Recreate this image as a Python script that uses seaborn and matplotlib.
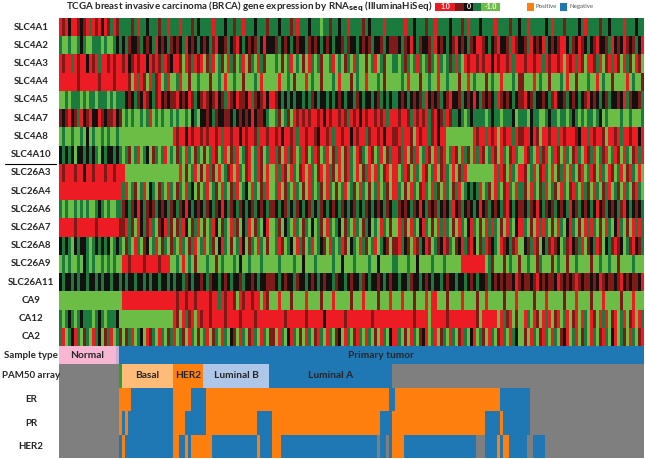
import numpy as np
import matplotlib
matplotlib.use("Agg")
import matplotlib.pyplot as plt
import seaborn as sns
from matplotlib.colors import LinearSegmentedColormap, ListedColormap, Normalize
from matplotlib.patches import Rectangle
import matplotlib.transforms as mtransforms

genes = ["SLC4A1", "SLC4A2", "SLC4A3", "SLC4A4", "SLC4A5", "SLC4A7", "SLC4A8", "SLC4A10",
         "SLC26A3", "SLC26A4", "SLC26A6", "SLC26A7", "SLC26A8", "SLC26A9", "SLC26A11",
         "CA9", "CA12", "CA2"]

# expression, one string per gene for each block of samples
# G=-1.0  g=-0.5  k=0  r=0.5  R=1.0
expr_normal = [
    "RrRkRRrkrRgRrRkRrgRrg",
    "gGGgGGgkgGGgggGgGGgkg",
    "RrRRgRrRRkRrRgRRrRrRR",
    "RRRRRRrRRRRRRrRRRRrRR",
    "GGgGgggGgGggGgggGgGgg",
    "rkrRkrgRkrRkkRrkrrRkr",
    "GgGGgGGgGkGgGGgGgGGgG",
    "kgkgkGkkgkgkgGkgkkgkg",
    "RrRRRrRRkRRrRRRrRRrRR",
    "RRRRRRRRRRRRRRRRRRRRR",
    "gGgGGgGgGgGGgkgGgGGgg",
    "RRRRRrRRRRRRrRRRRRRRr",
    "kgkgGkgkkgGgkgkgkGgkg",
    "GgGgGGgGkgGgGGgGgGgGG",
    "kgkkgkgkkgkkgkgkkgkkg",
    "GGGGGGGGGGGGGGGGGGGGG",
    "gGgkgGgkgggGgkgGgggkG",
    "gRGgkRgGrgGRgkGrgRGgr",
]
expr_basal = [
    "gggrgRggkgggrggRg",
    "kgrkkrgkrkgRkrkgr",
    "rRkrRrRRkRrRrgRrk",
    "RRrGRgRrGRgrRGgRG",
    "gkrkgrkRrkgrRkrkr",
    "GgGgGGgGgRGgGgGGg",
    "GGGGGGGGGGGGGGGGG",
    "GgrGgRGgkGrgGgRGg",
    "RGGGGGGGGGGGGGGGG",
    "gRGgrGgRGkgGrgGRg",
    "rkgrkRkgrkrgkrkgr",
    "rRgrGRkgrRgGrkRgr",
    "GrgGRgGrkGgRGrgGr",
    "RRrRRRRrRRRRrRRRG",
    "kgkkgkkgkgkkgkkgk",
    "RRRRRRRRRRRRRRRRR",
    "GGGGGGGGGGGGGGGGG",
    "GrgRGgkGRrgGRgGrg",
]
expr_her2 = [
    "ggRgggrgkg",
    "krkgRkrkgk",
    "RRrGRrgRrR",
    "GgRGGrGGgG",
    "rRkrkRrgkr",
    "GgGGgGkgGk",
    "RrRRkRrRRr",
    "GrgGRgGrgG",
    "GGRGrGgRGr",
    "GrgGRgkGrG",
    "kgrkRkgkrk",
    "GrgRkGrgRG",
    "gGRgGrgRGg",
    "GgGRGgGrGG",
    "gkkgrkgkkr",
    "RrRRrRRrRR",
    "RrGRgrRGRr",
    "RGgrGRgGrG",
]
expr_lumb = [
    "gggRgggkggrggRgggkgggr",
    "rkgrRkkrgkrRkgkrkrgkRk",
    "GrgRGgrGRgrGgRGrgGRgrG",
    "GGrGGgGRGGgGGrGGGgGRGG",
    "RrkrRkrgRrkRrrkRgrkrRk",
    "krkgrkkrrkgkrkrkRkrrkg",
    "RrRRrRgRRrRRkRrRRrgRRr",
    "rGgRrGgRGrgRGgrRGgRrGg",
    "GRgrGRGgrRGRgGrRGgRrGR",
    "gRGgrGRgGrgRGgkGRgGrgR",
    "grkgrkRkgrkgrkgkrgkrkg",
    "rGgRkGrgGRgrGkgRGrgGkR",
    "RGgrGkRgGrGgRkGrgGRgGr",
    "GgGGrGgGGGgGkGGgGGGgGG",
    "kgrkkgkrkgkkrgkkrkgkkr",
    "RRrRRgRrRRrGRrRRrRRGRr",
    "RRrRRRRrRRRRrRRRRrRRRR",
    "gRGrgGRgGkrGRgGrRgGRgG",
]
expr_luma = [
    "ggkgggrgRgggkgggGggrggkggRggggrgkggggRgg",
    "krgkrkgkrkkgrkrkgkrkgkkrgrkkgkrkrgkkrgkr",
    "GgGrGgRGgGrGRgGgrGGgRGgGrgGRgGGrGgRGgrGG",
    "GGRGGgGrGGGRGgGGrGGGgGRGGGrGgGGRGGGgGrGG",
    "Rrkgkgkgkkgkgrkgkkgkgkrkgkkgrkgkkgkrgkgk",
    "GgrGgrGRrRrRrRRrRkRrRRrRrgRrRkRrRRrRrRgR",
    "RrRkRRrRgRRrRRrkRRrRgRRrRRkRrRRgrRRrRkRR",
    "RgrGRgrRGgRrGgRrGgRGrgRGrRgGRrgGRrGgRGrg",
    "GRgRrGRgGrRGRgGrRGRgrGRGrRgGRGrgRGRgGrRG",
    "GgRGrgGRgGrGRgGgrGRgGrGgRGgrGRgGrGgRGgrG",
    "rkgkrgkgrkgkrgkgrkgkrkgrkgkrgkgrkgkrkgrk",
    "GgrGkgGRgGrgGkGgrGRgGgkGrgGRgGrgkGgGRgGr",
    "GgRrGgkGRgrGgRGgkrGRgGgRrGkgGRgrGgRGgkrG",
    "GGgGGGGgGGkGGGgGGGGGgGGkGGGgGGGGgGGkGGGG",
    "rkgkrkkgrkkgkrkgkrkkgrkkgkrkkgrkgkkrkgkr",
    "GGRGGGrGGGGRGGGGrGGGRGGGGGrGGGRGGGGrGGGR",
    "RRRRrRRRRRRrRRRRRkRRRRRRrRRRRRRRRrRRRRRR",
    "rGRgGkRgGrGRgGrRgGRgGrkGRgGrRgGRgGrGRgGk",
]
expr_rest = [
    "gggRggkgggrggRggggkgggrgRgggkggggRggggrggkggRgggggkgRgggrggggkgRggggrggkggggRgggkgg",
    "rkgrkRkgrkkrgRkrkgkrRkrkgrkRrkgkrRkkrgRrkkrgRkrkRgkrkrRkgrkRrkgkrRkkrgRkrkRrkrgkR",
    "gGgrgGgRgGgrgGRgGgrgRgGRrRRrRrRRkRrRRrRgRRrRRrRRgRrRRrRGRrRgRrGRRrgRGrRgRrGRgrGRrG",
    "GGgGRGGGrGGgGGRGGgGGGrGGRGgGGGrGgGGRGGGgGrGGGRGgGGrGGGgGRGGrGGGgGGRGgGGrGGGGRGgGGr",
    "gkrkgkrkrgRkrkrgkrRkkrgkrkRkgrkrkgRrkrkgkrRkrgkkrkgrRkkrgkrkgkrRkrkgkrgkkrkRgrkkrg",
    "RrRRrgRrRrRgrRkrgRrggkgGgkgggGgkggGgggkGgggGkggGGgkggGgGgkgGgGggGgkGgGGGGgGGgGGGg",
    "rRgRRrGRrRRgrRkRRGGGGGGGGGRrRRgRrRGRrRRgRrRRkRrGRRrRRgRrRRRrkRRgRrRRrGRRrRgRRrRRkR",
    "RrgRGrgRGgRrGRgrRGgRrGRgrGRgRrGgRrGRgGrRgGRrgGRgrRGgRrGRgGrRgGRrgRGgrRGgRrGRgGrRgR",
    "RGgRrGRgGRrGgRGrRgGRGrgRGGGGGGGGGRgRrGRgGRrGgRGrRgGRGrgRGRgGrRGgRrGRgGRrGgRGrRgGRG",
    "RgGrGRgGrRgGRgrGRgGrgRGgkgkgRGgrGRgGrRgGRgrGRgGrgRGgrGRgGrRgGRgrGRgGrgRGgrGRgGrRgG",
    "grkrkgrkRkgrkrgkrkgRkrgkrkgkRkrgkrkgrRkgkrkgrkRkgrkrgkrkgRkrgkrkgkRkrgkrkgrRkgkrkg",
    "GRgrGRgGkRgGrGRgRgGrGRgGkRgGrGRgRgGrGRgGkRgGrGRgRgGrGRgGkRgGrGRgRgGrGRgGkRgGrGRgRg",
    "rRgkrGRrgkRrGgrkRrgGrkRgrRkGrgRrkgGRrkgrRGkrgRrGkgrRrkGgrRkrgRGrkgRrGkgrRrkGgrRkrg",
    "gGGGgGGkGGGGgGGGgGGGGGRRRRRRRRGgrGGGrGgGGrGGgGGrgGGGrGgGGrGGgGGGGrGGgGGgGGrGGGGgGGG",
    "kgkkgrkkgkrkgkkgkrkkgkkgkrkgkkrgkrkrkrrkRrkrrkrRkrkrrkRrkrkrRrkrrkrkRrkrrkrRkrkrrkR",
    "GGRGGGrGGGRGRRGGGrGGGGRGGGGrGGRGGGGGrGGGRGGGGrGGGRGGGGGrGGGRGGGGrGGGRGGGGGrGGGRGGG",
    "RRRRRRrRRRRGRRRRRrRRRRRRRRRrGRRRRRGRgrRGrGRgGRrGRgRGrRGgRGrRGRgGRrGRgRGrRGgRGrRGRg",
    "RgGrGRgGrkRGgRGrgGRgGrRgGkRGgrGRgGrRgGRgkGrGRgGrRgGRgGrkRGgRGrgGRgGrRgGkRGgrGRgGrR",
]
levels = {"G": -1.0, "g": -0.5, "k": 0.0, "r": 0.5, "R": 1.0}

# sample annotation, as (category, number of samples) runs
sample_type = [("Normal", 19), ("Metastatic", 1), ("Primary tumor", 175)]
pam50 = [("NA", 20), ("Normal-like", 1), ("Basal", 17), ("HER2", 10),
         ("Luminal B", 22), ("Luminal A", 41), ("NA", 84)]
er_status = [("NA", 20), ("Positive", 4), ("Negative", 14), ("Positive", 6), ("Negative", 5),
             ("Positive", 61), ("Negative", 2), ("Positive", 35), ("Negative", 10), ("NA", 38)]
pr_status = [("NA", 20), ("Positive", 1), ("Negative", 1), ("Positive", 1), ("Negative", 15),
             ("Positive", 4), ("Negative", 7), ("Positive", 17), ("Negative", 5), ("Positive", 36),
             ("Negative", 4), ("Positive", 31), ("Negative", 5), ("Positive", 1), ("Negative", 9),
             ("NA", 38)]
her2_status = [("NA", 20), ("Negative", 1), ("Positive", 1), ("Negative", 16), ("Positive", 2),
               ("Negative", 2), ("Positive", 1), ("Negative", 1), ("Positive", 7), ("Negative", 15),
               ("Positive", 1), ("Negative", 4), ("Positive", 3), ("Negative", 32), ("NA", 1),
               ("Negative", 2), ("NA", 1), ("Negative", 1), ("Positive", 4), ("Negative", 24),
               ("NA", 3), ("Negative", 4), ("Positive", 1), ("Negative", 1), ("Positive", 2),
               ("Negative", 6), ("NA", 2), ("Negative", 4), ("NA", 33)]

sample_colors = {"Normal": "#f7b6d2", "Metastatic": "#c5b0d5", "Primary tumor": "#1f77b4"}
pam50_colors = {"NA": "#7f7f7f", "Normal-like": "#2ca02c", "Basal": "#ffbb78", "HER2": "#ff7f0e",
                "Luminal B": "#aec7e8", "Luminal A": "#1f77b4"}
status_colors = {"NA": "#7f7f7f", "Positive": "#ff7f0e", "Negative": "#1f77b4"}

FONT = ["Lato", "DejaVu Sans"]


def expand(runs):
    out = []
    for cat, n in runs:
        out += [cat] * n
    return out


def stretch(s, n):
    idx = np.arange(n) * len(s) // n
    return [levels[s[i]] for i in idx]


# block widths follow the PAM50 groups (normal + normal-like merged)
widths = [pam50[0][1] + pam50[1][1]] + [n for _, n in pam50[2:]]
blocks = [expr_normal, expr_basal, expr_her2, expr_lumb, expr_luma, expr_rest]
mat = np.array([sum((stretch(b[i], w) for b, w in zip(blocks, widths)), []) for i in range(len(genes))])

sns.set_style("white")
plt.rcParams["font.family"] = FONT

fig = plt.figure(figsize=(6.45, 4.59), dpi=100)
W, H = 645.0, 459.0


def add_ax(y0, y1, x0=59, x1=644):
    return fig.add_axes([x0 / W, 1 - y1 / H, (x1 - x0) / W, (y1 - y0) / H])


cmap = LinearSegmentedColormap.from_list(
    "rg", ["#6cbd45", "#1b7a3d", "#141010", "#7d1a18", "#ed1c24"])
ax = add_ax(18, 346)
sns.heatmap(mat, cmap=cmap, vmin=-1, vmax=1, cbar=False, xticklabels=False,
            yticklabels=False, ax=ax)
ax.set_xlabel("")
ax.set_ylabel("")

blend = mtransforms.blended_transform_factory(fig.transFigure, ax.transData)
for i, g in enumerate(genes):
    ax.text(31 / W, i + 0.5, g, transform=blend, ha="center", va="center",
            fontsize=7, fontweight="bold")
ax.plot([5 / W, 56 / W], [8, 8], transform=blend, color="black", lw=0.8, clip_on=False)

# annotation tracks
tracks = [("Sample type", sample_type, sample_colors, 346, 364, ["Normal", "Primary tumor"]),
          ("PAM50 array", pam50, pam50_colors, 364, 388, ["Basal", "HER2", "Luminal B", "Luminal A"]),
          ("ER", er_status, status_colors, 388, 411, []),
          ("PR", pr_status, status_colors, 411, 435, []),
          ("HER2", her2_status, status_colors, 435, 458, [])]
for name, runs, colors, y0, y1, shown in tracks:
    cats = list(colors.keys())
    codes = np.array([[cats.index(c) for c in expand(runs)]])
    a = add_ax(y0, y1)
    sns.heatmap(codes, cmap=ListedColormap([colors[c] for c in cats]), vmin=-0.5,
                vmax=len(cats) - 0.5, cbar=False, xticklabels=False, yticklabels=False, ax=a)
    a.set_xlabel("")
    a.set_ylabel("")
    fig.text(31 / W, 1 - (y0 + y1) / 2 / H, name, ha="center", va="center",
             fontsize=7, fontweight="bold")
    start = 0
    for cat, n in runs:
        if cat in shown:
            a.text(start + n / 2, 0.5, cat, ha="center", va="center", fontsize=7.3,
                   fontweight="bold")
        start += n

# title and legends
fig.text(249 / W, 1 - 6.5 / H, r"TCGA breast invasive carcinoma (BRCA) gene expression by RNA$_{\bf seq}$ (IlluminaHiSeq)",
         ha="center", va="center", fontsize=7, fontweight="bold")

legend_vals = [1.0, 0.5, 0.0, -0.5, -1.0]
legend_text = ["1.0", "", "0", "", "-1.0"]
legend_w = [20, 9, 9, 8, 19]
norm = Normalize(-1, 1)
x = 435.0
for v, t, w in zip(legend_vals, legend_text, legend_w):
    fig.patches.append(Rectangle((x / W, 1 - 10.5 / H), w / W, 7.5 / H, transform=fig.transFigure,
                                 facecolor=cmap(norm(v)), edgecolor="none"))
    if t:
        fig.text((x + w / 2) / W, 1 - 6.8 / H, t, ha="center", va="center", fontsize=5,
                 color="white", fontweight="bold")
    x += w

for label, col, x0 in [("Positive", status_colors["Positive"], 527),
                       ("Negative", status_colors["Negative"], 560)]:
    fig.patches.append(Rectangle((x0 / W, 1 - 10.5 / H), 7 / W, 7.5 / H, transform=fig.transFigure,
                                 facecolor=col, edgecolor="none"))
    fig.text((x0 + 9) / W, 1 - 6.8 / H, label, ha="left", va="center", fontsize=4.4, color="#555555")

fig.savefig("out.png", dpi=100)
